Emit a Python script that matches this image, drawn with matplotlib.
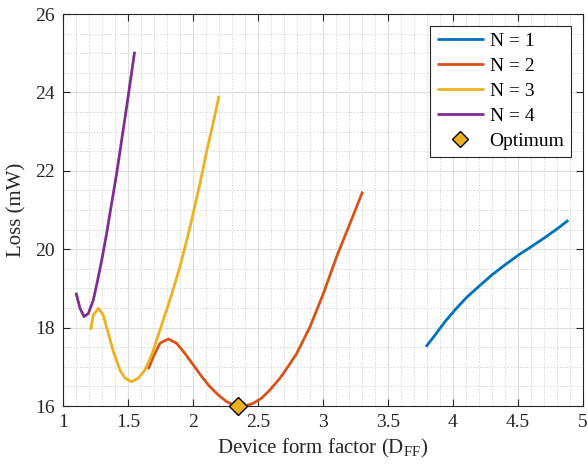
import matplotlib
matplotlib.use("Agg")
import matplotlib.pyplot as plt
from matplotlib.ticker import MultipleLocator

plt.rcParams['font.family'] = ['Liberation Serif', 'DejaVu Serif']
plt.rcParams['mathtext.fontset'] = 'custom'
plt.rcParams['mathtext.rm'] = 'Liberation Serif'

# N = 1
n1_x = [3.792, 3.862, 3.938, 4.015, 4.105, 4.195, 4.298, 4.40, 4.503, 4.605, 4.708, 4.81, 4.887]
n1_y = [17.51, 17.81, 18.15, 18.45, 18.77, 19.04, 19.34, 19.60, 19.85, 20.07, 20.30, 20.54, 20.74]
# N = 2
n2_x = [1.656, 1.695, 1.746, 1.81, 1.874, 1.938, 2.002, 2.067, 2.131, 2.195, 2.259, 2.323, 2.40,
        2.464, 2.528, 2.592, 2.669, 2.72, 2.798, 2.90, 3.003, 3.105, 3.208, 3.305]
n2_y = [16.94, 17.26, 17.60, 17.71, 17.60, 17.34, 17.05, 16.75, 16.49, 16.28, 16.11, 16.01, 16.00,
        16.07, 16.20, 16.41, 16.71, 16.95, 17.34, 18.02, 18.87, 19.81, 20.66, 21.47]
# N = 3
n3_x = [1.213, 1.233, 1.272, 1.31, 1.349, 1.387, 1.438, 1.477, 1.528, 1.579, 1.631, 1.682, 1.733,
        1.785, 1.836, 1.895, 1.95, 2.002, 2.055, 2.105, 2.155, 2.20]
n3_y = [17.94, 18.32, 18.49, 18.32, 17.85, 17.39, 16.92, 16.71, 16.62, 16.71, 16.92, 17.30, 17.81,
        18.33, 18.85, 19.50, 20.20, 20.92, 21.70, 22.49, 23.22, 23.91]
# N = 4
n4_x = [1.10, 1.131, 1.162, 1.195, 1.233, 1.264, 1.298, 1.336, 1.413, 1.49, 1.551]
n4_y = [18.89, 18.49, 18.28, 18.36, 18.70, 19.17, 19.72, 20.41, 21.94, 23.64, 25.04]
# Optimum
opt_x = [2.349]
opt_y = [16.0]

labels = ['N = 1', 'N = 2', 'N = 3', 'N = 4']
colors = ['#0072BD', '#D95319', '#EDB120', '#7E2F8E']

fig = plt.figure(figsize=(5.88, 4.73), dpi=100)
ax = fig.add_axes([63/588, 67/473, 520/588, 392/473])

for xs, ys, lab, c in zip([n1_x, n2_x, n3_x, n4_x], [n1_y, n2_y, n3_y, n4_y], labels, colors):
    ax.plot(xs, ys, color=c, lw=2.0, label=lab, solid_capstyle='butt', solid_joinstyle='round')
ax.plot(opt_x, opt_y, linestyle='none', marker='D', markersize=9, markerfacecolor='#EDB120',
        markeredgecolor='black', markeredgewidth=1.0, label='Optimum', clip_on=False, zorder=5)

ax.set_xlim(1, 5)
ax.set_ylim(16, 26)
ax.xaxis.set_major_locator(MultipleLocator(0.5))
ax.yaxis.set_major_locator(MultipleLocator(2))
ax.xaxis.set_minor_locator(MultipleLocator(0.1))
ax.yaxis.set_minor_locator(MultipleLocator(0.5))
ax.set_xticks([1, 1.5, 2, 2.5, 3, 3.5, 4, 4.5, 5])
ax.set_xticklabels(['1', '1.5', '2', '2.5', '3', '3.5', '4', '4.5', '5'])
ax.grid(True, which='major', color='#dedede', lw=0.8, linestyle='-')
ax.grid(True, which='minor', color='#d4d4d4', lw=0.6, linestyle=(0, (2, 2)))
ax.set_axisbelow(True)
ax.tick_params(which='major', direction='in', length=5, width=0.8, top=True, right=True,
               labelsize=14, colors='#262626', pad=6)
ax.tick_params(which='minor', length=0, top=True, right=True)
for s in ax.spines.values():
    s.set_color('#262626')
    s.set_linewidth(0.8)

ax.set_xlabel('Device form factor (D$_{\\mathrm{FF}}$)', fontsize=15, color='#262626', labelpad=4)
ax.set_ylabel('Loss (mW)', fontsize=15, color='#262626', labelpad=6)

leg = ax.legend(loc='upper right', fontsize=14, frameon=True, fancybox=False,
                edgecolor='#262626', framealpha=1, handlelength=2.4, handletextpad=0.3,
                borderpad=0.35, labelspacing=0.38, borderaxespad=0.6, markerscale=0.85)
leg.get_frame().set_linewidth(0.8)

fig.savefig('out.png', dpi=100)
